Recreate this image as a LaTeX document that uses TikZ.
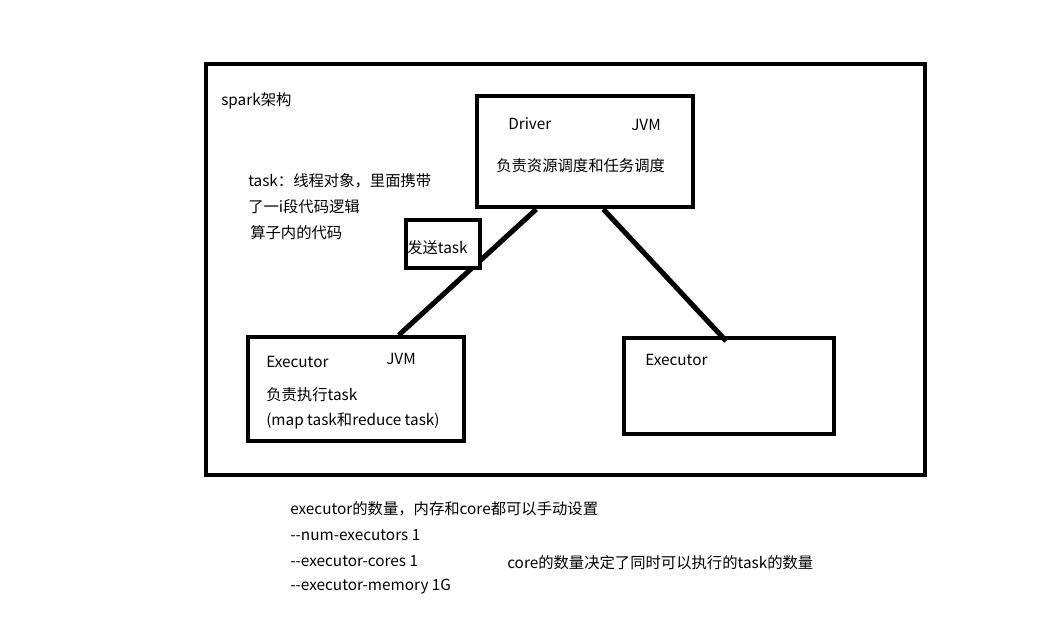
\documentclass[tikz,border=0pt]{standalone}
\usepackage{fontspec}
\setmainfont{Noto Sans CJK SC}
\usetikzlibrary{positioning,calc}

\begin{document}
\begin{tikzpicture}[
    x=0.75pt,
    y=-0.75pt,
    font=\fontsize{11.5}{13}\selectfont,
    box/.style={draw=black, line width=3.2pt, anchor=north west, inner sep=0pt},
    txt/.style={anchor=west, inner sep=0pt},
    link/.style={line width=3.8pt}
]
\useasboundingbox[fill=white] (0,0) rectangle (1058,640);

% Frame.
\node[box, minimum width=719*0.75pt, minimum height=411*0.75pt] (frame) at (204,62) {};
\node[txt] (title) at (221,101) {spark架构};

% Driver.
\node[box, minimum width=216*0.75pt, minimum height=111*0.75pt] (driver) at (475,94) {};
\node[txt] (driver_name) at (508,124) {Driver};
\node[txt] (driver_jvm) at (631,125) {JVM};
\node[txt] (driver_desc) at (496,166) {负责资源调度和任务调度};

% Task note.
\node[txt] (task_l1) at (248,181) {task：线程对象，里面携带};
\node[txt] (task_l2) at (248,207) {了一i段代码逻辑};
\node[txt] (task_l3) at (250,233) {算子内的代码};

% Executors.
\node[box, minimum width=216*0.75pt, minimum height=104*0.75pt] (exec_left) at (246,335) {};
\node[txt] (exec_left_name) at (266,362) {Executor};
\node[txt] (exec_left_jvm) at (386,359) {JVM};
\node[txt] (exec_left_desc) at (266,395) {负责执行task};
\node[txt] (exec_left_kind) at (266,421) {(map task和reduce task)};

\node[box, minimum width=210*0.75pt, minimum height=96*0.75pt] (exec_right) at (622,336) {};
\node[txt] (exec_right_name) at (645,360) {Executor};

% Links.
\coordinate (drv_l) at ($(driver.south west)!0.278!(driver.south east)$);
\coordinate (drv_r) at ($(driver.south west)!0.583!(driver.south east)$);
\coordinate (exl_top) at ($(exec_left.north west)!0.694!(exec_left.north east)$);
\coordinate (exr_top) at ($(exec_right.north west)!0.486!(exec_right.north east)+(0,5)$);
\draw[link] (drv_l) -- (exl_top);
\draw[link] (drv_r) -- (exr_top);

% Send box.
\node[box, fill=white, minimum width=74*0.75pt, minimum height=48*0.75pt] (send) at (404,218) {};
\node[txt] (send_text) at (407,248) {发送task};

% Settings.
\node[txt] (cfg_head) at (290,509) {executor的数量，内存和core都可以手动设置};
\node[txt] (cfg_num) at (290,535) {-{}-num-executors 1};
\node[txt] (cfg_cores) at (290,561) {-{}-executor-cores 1};
\node[txt] (cfg_mem) at (290,587) {-{}-executor-memory 1G};
\node[txt] (cfg_note) at (507,563) {core的数量决定了同时可以执行的task的数量};

\end{tikzpicture}
\end{document}
